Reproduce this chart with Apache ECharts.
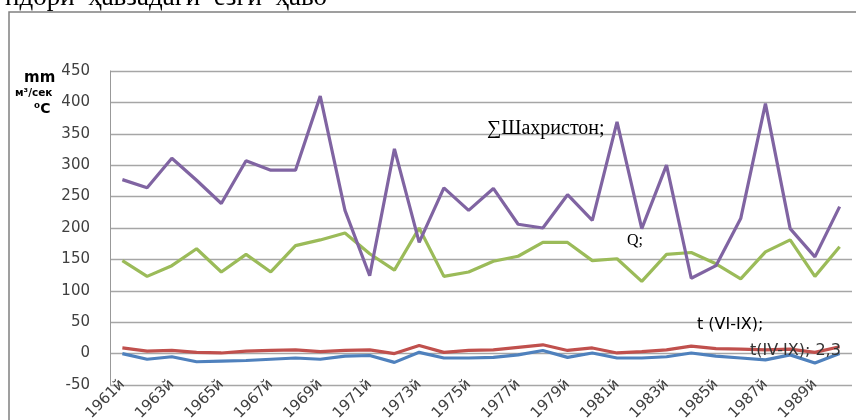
<!DOCTYPE html>
<html><head><meta charset="utf-8">
<script src="https://cdn.jsdelivr.net/npm/echarts@6/dist/echarts.min.js"></script>
<style>html,body{margin:0;padding:0;background:#fff}#c{width:856px;height:420px}</style>
</head><body><div id="c"></div>
<script>
const years = ['1961й','1962й','1963й','1964й','1965й','1966й','1967й','1968й','1969й','1970й','1971й','1972й','1973й','1974й','1975й','1976й','1977й','1978й','1979й','1980й','1981й','1982й','1983й','1984й','1985й','1986й','1987й','1988й','1989й','1990й'];
const shahriston = [277,264,311,276,239,307,292,292,410,228,124,326,177,264,228,263,206,200,253,212,369,199,300,120,140,215,398,199,154,234];
const discharge = [148,123,140,167,130,158,130,172,181,192,159,133,200,123,130,147,155,177,177,148,151,115,158,161,143,119,162,181,123,170];
const tempVI_IX = [9,4,5,2,1,4,5,6,3,5,6,0,13,2,5,6,10,14,5,9,1,3,6,12,8,7,6,7,2,11];
const tempIV_IX = [0,-9,-5,-13,-12,-11,-9,-7,-9,-4,-3,-14,2,-7,-7,-6,-2,5,-6,1,-7,-7,-5,1,-4,-7,-10,-2,-15,0];
const yTicks = [-50,450,50];

const chart = echarts.init(document.getElementById('c'));
const mk = (name, data, color, z) => ({name, type:'line', data, symbol:'none', z,
  lineStyle:{color, width:3.2}, itemStyle:{color}});
chart.setOption({
  animation:false,
  grid:{left:110, right:4, top:71, bottom:35, outerBoundsMode:'none', containLabel:false},
  xAxis:{type:'category', data:years, boundaryGap:true,
    axisLine:{show:false}, axisTick:{show:false},
    axisLabel:{interval:1, rotate:45, fontSize:15, color:'#404040', fontFamily:'DejaVu Sans', margin:-3}},
  yAxis:{type:'value', min:yTicks[0], max:yTicks[1], interval:yTicks[2],
    axisLine:{show:true, lineStyle:{color:'#999', width:1}},
    axisTick:{show:false},
    splitLine:{lineStyle:{color:'#a6a6a6', width:1.3}},
    axisLabel:{fontSize:15, color:'#404040', fontFamily:'DejaVu Sans', margin:20}},
  series:[
    mk('t(IV-IX)', tempIV_IX, '#4F81BD', 2),
    mk('t (VI-IX)', tempVI_IX, '#C0504D', 3),
    mk('Q', discharge, '#9BBB59', 4),
    mk('∑Шахристон', shahriston, '#8064A2', 5)
  ],
  graphic:[
    {type:'rect', shape:{x:9, y:12, width:900, height:500}, style:{fill:'none', stroke:'#808080', lineWidth:1.5}, z:0},
    {type:'text', left:5, top:-16, style:{text:'ндори  ҳавзадаги  ёзги  ҳаво', font:'27px "Liberation Serif"', fill:'#000'}},
    {type:'text', left:24, top:71, style:{text:'mm', font:'bold 15px "DejaVu Sans"', fill:'#000'}},
    {type:'text', left:15, top:88, style:{text:'м³/сек', font:'bold 10.5px "DejaVu Sans"', fill:'#000'}},
    {type:'text', left:34, top:102, style:{text:'⁰C', font:'bold 14px "DejaVu Sans"', fill:'#000'}},
    {type:'text', left:487, top:119, style:{text:'∑Шахристон;', font:'20px "Liberation Serif"', fill:'#000'}, z:10},
    {type:'text', left:627, top:233, style:{text:'Q;', font:'16px "Liberation Serif"', fill:'#000'}, z:10},
    {type:'text', left:697, top:317, style:{text:'t (VI-IX);', font:'16px "DejaVu Sans"', fill:'#000'}, z:10},
    {type:'text', left:750, top:343, style:{text:'t(IV-IX); 2,3', font:'16px "DejaVu Sans"', fill:'#333'}, z:10}
  ]
});
</script></body></html>
